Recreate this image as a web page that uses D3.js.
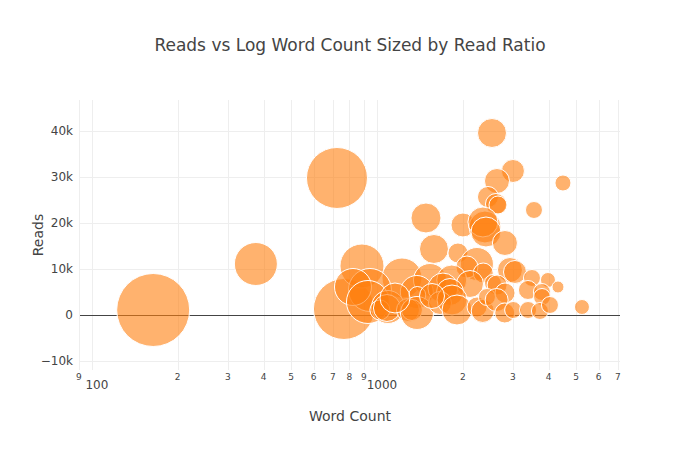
<!DOCTYPE html>
<html>
<head>
<meta charset="utf-8">
<script src="https://cdn.jsdelivr.net/npm/d3@7"></script>
<style>
  body { margin: 0; background: #fff; }
  svg { font-family: "DejaVu Sans", Verdana, sans-serif; }
</style>
</head>
<body>
<svg id="chart" width="700" height="450"></svg>
<script>
const width = 700;
const height = 450;
const margin = { top: 100, right: 80, bottom: 80, left: 80 };

// word count of each article
const wordCounts = [164, 376, 724, 766, 886, 2533, 3000, 2637, 4494, 2452,
    2616, 2659, 3556, 1486, 2004, 2393, 2354, 2413, 2812, 1585,
    1924, 2243, 2069, 2929, 3050, 1224, 1535, 1830, 2360, 3499,
    3981, 4317, 945, 824, 1380, 1385, 2120, 1704, 1804, 2553,
    2640, 2815, 3387, 3790, 3795, 930, 1093, 1024, 1084, 1285,
    1327, 1382, 1664, 1834, 1909, 2245, 2350, 2432, 2630, 2808,
    3005, 3390, 3731, 4046, 5240, 1157, 1560];

// reads of each article
const reads = [1087, 11087, 29784, 1304, 10653, 39567, 31306, 29132, 28697, 25653,
    24131, 23914, 22827, 21088, 19566, 19131, 20218, 18044, 15653, 14348,
    13479, 11087, 10435, 9783, 9348, 8044, 7609, 7609, 9131, 8044,
    7609, 6087, 5435, 6087, 5000, 4348, 6739, 5870, 5000, 6957,
    6522, 4783, 5435, 5000, 3913, 2826, 1739, 1087, 1522, 1087,
    1087, 435, 2609, 3261, 1087, 1739, 870, 3913, 3261, 435,
    1087, 1087, 870, 2174, 1739, 3696, 4130];

// read ratio (%) -> bubble size
const readRatios = [73, 43, 61, 61, 44, 29, 23, 25, 16, 21,
    21, 18, 17, 30, 24, 32, 30, 30, 25, 29,
    20, 33, 22, 25, 23, 40, 33, 30, 20, 17,
    15, 12, 43, 37, 33, 17, 27, 30, 27, 17,
    20, 20, 19, 17, 17, 43, 33, 20, 27, 23,
    21, 33, 23, 30, 30, 20, 23, 17, 23, 20,
    17, 17, 17, 17, 15, 30, 25];

const yTicks = [-10000, 0, 10000, 20000, 30000, 40000];
const xTicks = [90, 100, 200, 300, 400, 500, 600, 700, 800, 900,
    1000, 2000, 3000, 4000, 5000, 6000, 7000];

const data = wordCounts.map((w, i) => ({ words: w, reads: reads[i], ratio: readRatios[i] }));

const svg = d3.select("#chart");

const x = d3.scaleLog()
    .domain([90.8, 7125])
    .range([margin.left, width - margin.right]);

const y = d3.scaleLinear()
    .domain([-11957, 46739])
    .range([height - margin.bottom, margin.top]);

// plotly style: size = diameter in px
const size = d3.scaleLinear().domain([0, 100]).range([0, 100]);

// snap 1px lines to the pixel grid
const crisp = v => Math.round(v) + 0.5;

// gridlines
svg.append("g")
    .selectAll("line")
    .data(xTicks)
    .enter().append("line")
    .attr("x1", d => crisp(x(d))).attr("x2", d => crisp(x(d)))
    .attr("y1", margin.top).attr("y2", height - margin.bottom)
    .attr("stroke", "#eee")
    .attr("stroke-width", 1);

svg.append("g")
    .selectAll("line")
    .data(yTicks.filter(d => d !== 0))
    .enter().append("line")
    .attr("x1", margin.left).attr("x2", width - margin.right)
    .attr("y1", d => crisp(y(d))).attr("y2", d => crisp(y(d)))
    .attr("stroke", "#eee")
    .attr("stroke-width", 1);

// zero line
svg.append("line")
    .attr("x1", margin.left).attr("x2", width - margin.right)
    .attr("y1", crisp(y(0))).attr("y2", crisp(y(0)))
    .attr("stroke", "#444")
    .attr("stroke-width", 1);

// bubbles
svg.append("g")
    .selectAll("circle")
    .data(data)
    .enter().append("circle")
    .attr("cx", d => x(d.words))
    .attr("cy", d => y(d.reads))
    .attr("r", d => size(d.ratio) / 2)
    .attr("fill", "#ff7f0e")
    .attr("fill-opacity", 0.6)
    .attr("stroke", "#fff")
    .attr("stroke-width", 1);

// y tick labels
const fmtY = d3.format("~s");
svg.append("g")
    .selectAll("text")
    .data(yTicks)
    .enter().append("text")
    .attr("x", margin.left - 7)
    .attr("y", d => y(d))
    .attr("dy", "0.35em")
    .attr("text-anchor", "end")
    .attr("font-size", 12)
    .attr("fill", "#444")
    .text(d => d === 0 ? "0" : fmtY(d));

// x tick labels: powers of ten full size, other digits small
const isPow = d => Math.abs(Math.log10(d) - Math.round(Math.log10(d))) < 1e-9;
svg.append("g")
    .selectAll("text")
    .data(xTicks)
    .enter().append("text")
    .attr("x", d => isPow(d) ? x(d) + 5 : x(d))
    .attr("y", d => isPow(d) ? 389 : 380)
    .attr("text-anchor", "middle")
    .attr("font-size", d => isPow(d) ? 12 : 9)
    .attr("fill", "#444")
    .text(d => isPow(d) ? d : String(d).charAt(0));

// title
svg.append("text")
    .attr("x", width / 2)
    .attr("y", 51)
    .attr("text-anchor", "middle")
    .attr("font-size", 17)
    .attr("fill", "#444")
    .text("Reads vs Log Word Count Sized by Read Ratio");

// axis titles
svg.append("text")
    .attr("x", (margin.left + width - margin.right) / 2)
    .attr("y", 421)
    .attr("text-anchor", "middle")
    .attr("font-size", 14)
    .attr("fill", "#444")
    .text("Word Count");

svg.append("text")
    .attr("transform", `translate(43, ${(margin.top + height - margin.bottom) / 2}) rotate(-90)`)
    .attr("text-anchor", "middle")
    .attr("font-size", 14)
    .attr("fill", "#444")
    .text("Reads");
</script>
</body>
</html>
